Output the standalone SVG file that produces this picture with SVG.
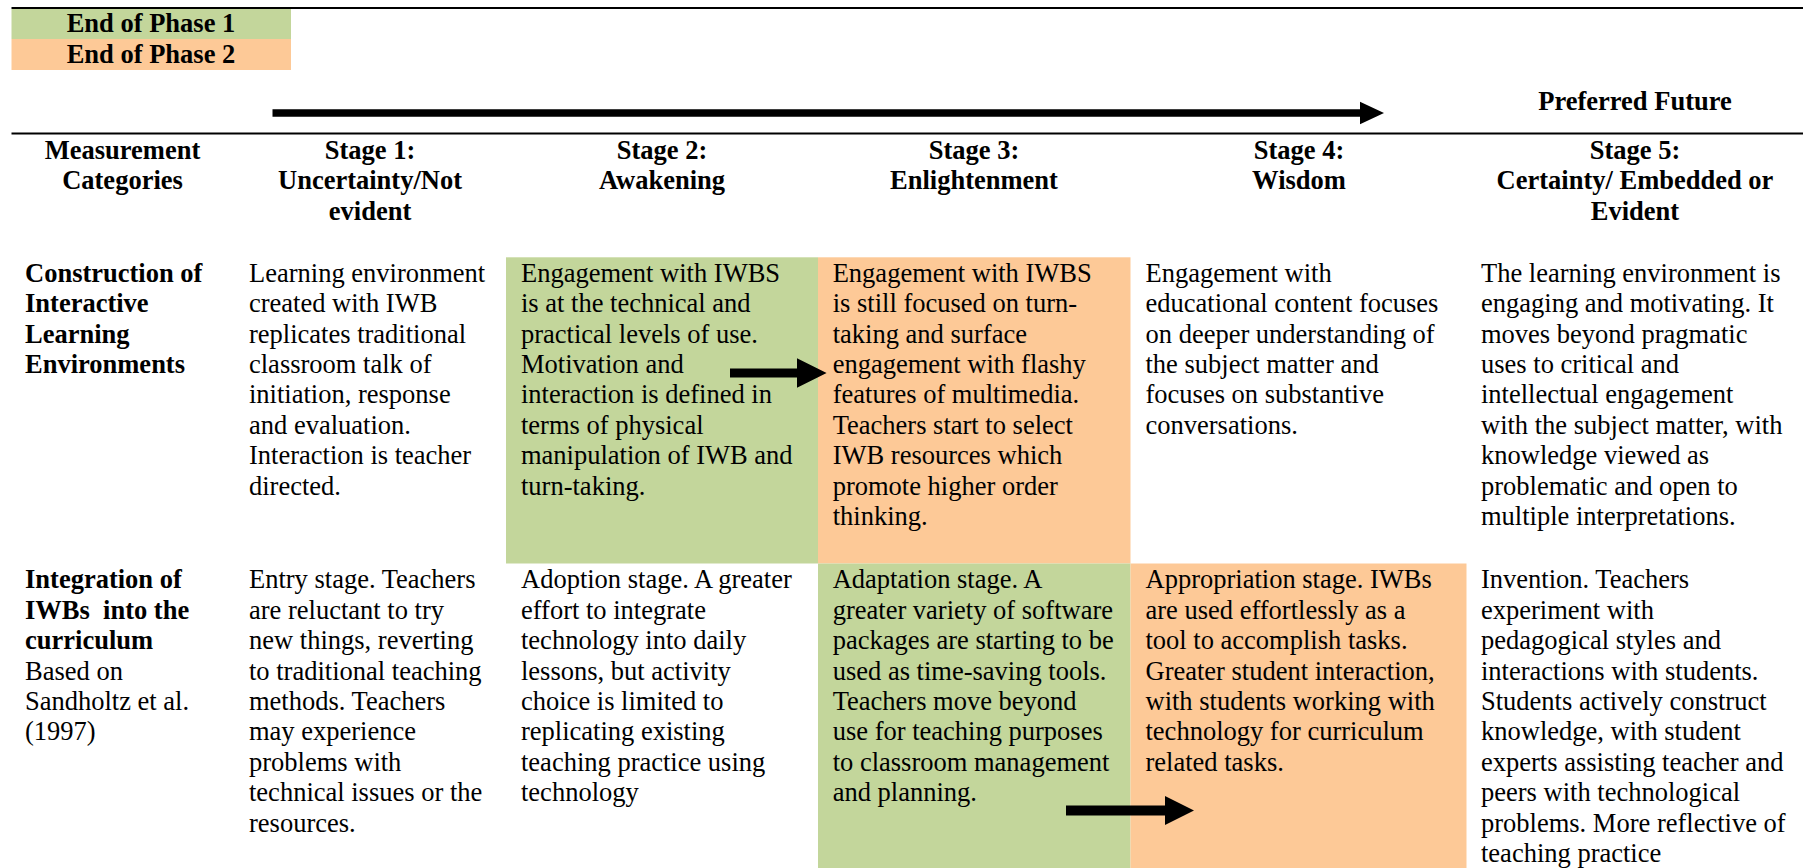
<svg xmlns="http://www.w3.org/2000/svg" width="1803" height="868" viewBox="0 0 1803 868">
<style>
text { font-family: "Liberation Serif", "Times New Roman", serif; font-size: 26.5px; fill: #000; }
.b { font-weight: bold; }
.c { text-anchor: middle; }
.green { fill: #C3D69B; }
.orange { fill: #FDC997; }
.rule { stroke: #000; stroke-width: 2; fill: none; }
.arrow { fill: #000; }
</style>
<rect width="1803" height="868" fill="#fff"/>

<g id="legend">
  <rect class="green" x="11.5" y="9" width="279.5" height="30"/>
  <rect class="orange" x="11.5" y="39" width="279.5" height="31"/>
  <text class="b c" x="151" y="32.3">End of Phase 1</text>
  <text class="b c" x="151" y="63.3">End of Phase 2</text>
</g>

<g id="rules">
  <line class="rule" x1="11.5" y1="8" x2="1803" y2="8"/>
  <line class="rule" x1="11.5" y1="133.5" x2="1803" y2="133.5"/>
</g>

<g id="preferred-future">
  <text class="b c" x="1635" y="110">Preferred Future</text>
</g>

<g id="cell-backgrounds">
  <rect class="green" x="506" y="257.3" width="312" height="306.2"/>
  <rect class="orange" x="818" y="257.3" width="312.5" height="306.2"/>
  <rect class="green" x="818" y="563.5" width="312.5" height="304.5"/>
  <rect class="orange" x="1130.5" y="563.5" width="336" height="304.5"/>
</g>

<g id="header-categories">
  <text class="b c" x="122.5" y="159"><tspan x="122.5">Measurement</tspan><tspan x="122.5" dy="30.4">Categories</tspan></text>
</g>
<g id="header-stage1">
  <text class="b c" x="370" y="159"><tspan x="370">Stage 1:</tspan><tspan x="370" dy="30.4">Uncertainty/Not</tspan><tspan x="370" dy="30.4">evident</tspan></text>
</g>
<g id="header-stage2">
  <text class="b c" x="662" y="159"><tspan x="662">Stage 2:</tspan><tspan x="662" dy="30.4">Awakening</tspan></text>
</g>
<g id="header-stage3">
  <text class="b c" x="974" y="159"><tspan x="974">Stage 3:</tspan><tspan x="974" dy="30.4">Enlightenment</tspan></text>
</g>
<g id="header-stage4">
  <text class="b c" x="1299" y="159"><tspan x="1299">Stage 4:</tspan><tspan x="1299" dy="30.4">Wisdom</tspan></text>
</g>
<g id="header-stage5">
  <text class="b c" x="1635" y="159"><tspan x="1635">Stage 5:</tspan><tspan x="1635" dy="30.4">Certainty/ Embedded or</tspan><tspan x="1635" dy="30.4">Evident</tspan></text>
</g>

<g id="row1-category">
  <text class="b" x="25" y="281.7"><tspan x="25">Construction of</tspan><tspan x="25" dy="30.4">Interactive</tspan><tspan x="25" dy="30.4">Learning</tspan><tspan x="25" dy="30.4">Environments</tspan></text>
</g>
<g id="row1-stage1">
  <text x="249" y="281.7"><tspan x="249">Learning environment</tspan><tspan x="249" dy="30.4">created with IWB</tspan><tspan x="249" dy="30.4">replicates traditional</tspan><tspan x="249" dy="30.4">classroom talk of</tspan><tspan x="249" dy="30.4">initiation, response</tspan><tspan x="249" dy="30.4">and evaluation.</tspan><tspan x="249" dy="30.4">Interaction is teacher</tspan><tspan x="249" dy="30.4">directed.</tspan></text>
</g>
<g id="row1-stage2">
  <text x="521" y="281.7"><tspan x="521">Engagement with IWBS</tspan><tspan x="521" dy="30.4">is at the technical and</tspan><tspan x="521" dy="30.4">practical levels of use.</tspan><tspan x="521" dy="30.4">Motivation and</tspan><tspan x="521" dy="30.4">interaction is defined in</tspan><tspan x="521" dy="30.4">terms of physical</tspan><tspan x="521" dy="30.4">manipulation of IWB and</tspan><tspan x="521" dy="30.4">turn-taking.</tspan></text>
</g>
<g id="row1-stage3">
  <text x="832.7" y="281.7"><tspan x="832.7">Engagement with IWBS</tspan><tspan x="832.7" dy="30.4">is still focused on turn-</tspan><tspan x="832.7" dy="30.4">taking and surface</tspan><tspan x="832.7" dy="30.4">engagement with flashy</tspan><tspan x="832.7" dy="30.4">features of multimedia.</tspan><tspan x="832.7" dy="30.4">Teachers start to select</tspan><tspan x="832.7" dy="30.4">IWB resources which</tspan><tspan x="832.7" dy="30.4">promote higher order</tspan><tspan x="832.7" dy="30.4">thinking.</tspan></text>
</g>
<g id="row1-stage4">
  <text x="1145.5" y="281.7"><tspan x="1145.5">Engagement with</tspan><tspan x="1145.5" dy="30.4">educational content focuses</tspan><tspan x="1145.5" dy="30.4">on deeper understanding of</tspan><tspan x="1145.5" dy="30.4">the subject matter and</tspan><tspan x="1145.5" dy="30.4">focuses on substantive</tspan><tspan x="1145.5" dy="30.4">conversations.</tspan></text>
</g>
<g id="row1-stage5">
  <text x="1481" y="281.7"><tspan x="1481">The learning environment is</tspan><tspan x="1481" dy="30.4">engaging and motivating. It</tspan><tspan x="1481" dy="30.4">moves beyond pragmatic</tspan><tspan x="1481" dy="30.4">uses to critical and</tspan><tspan x="1481" dy="30.4">intellectual engagement</tspan><tspan x="1481" dy="30.4">with the subject matter, with</tspan><tspan x="1481" dy="30.4">knowledge viewed as</tspan><tspan x="1481" dy="30.4">problematic and open to</tspan><tspan x="1481" dy="30.4">multiple interpretations.</tspan></text>
</g>

<g id="row2-category">
  <text x="25" y="588.3"><tspan class="b" x="25">Integration of</tspan><tspan class="b" x="25" dy="30.4" xml:space="preserve">IWBs  into the</tspan><tspan class="b" x="25" dy="30.4">curriculum</tspan><tspan x="25" dy="30.4">Based on</tspan><tspan x="25" dy="30.4">Sandholtz et al.</tspan><tspan x="25" dy="30.4">(1997)</tspan></text>
</g>
<g id="row2-stage1">
  <text x="249" y="588.3"><tspan x="249">Entry stage. Teachers</tspan><tspan x="249" dy="30.4">are reluctant to try</tspan><tspan x="249" dy="30.4">new things, reverting</tspan><tspan x="249" dy="30.4">to traditional teaching</tspan><tspan x="249" dy="30.4">methods. Teachers</tspan><tspan x="249" dy="30.4">may experience</tspan><tspan x="249" dy="30.4">problems with</tspan><tspan x="249" dy="30.4">technical issues or the</tspan><tspan x="249" dy="30.4">resources.</tspan></text>
</g>
<g id="row2-stage2">
  <text x="521" y="588.3"><tspan x="521">Adoption stage. A greater</tspan><tspan x="521" dy="30.4">effort to integrate</tspan><tspan x="521" dy="30.4">technology into daily</tspan><tspan x="521" dy="30.4">lessons, but activity</tspan><tspan x="521" dy="30.4">choice is limited to</tspan><tspan x="521" dy="30.4">replicating existing</tspan><tspan x="521" dy="30.4">teaching practice using</tspan><tspan x="521" dy="30.4">technology</tspan></text>
</g>
<g id="row2-stage3">
  <text x="832.7" y="588.3"><tspan x="832.7">Adaptation stage. A</tspan><tspan x="832.7" dy="30.4">greater variety of software</tspan><tspan x="832.7" dy="30.4">packages are starting to be</tspan><tspan x="832.7" dy="30.4">used as time-saving tools.</tspan><tspan x="832.7" dy="30.4">Teachers move beyond</tspan><tspan x="832.7" dy="30.4">use for teaching purposes</tspan><tspan x="832.7" dy="30.4">to classroom management</tspan><tspan x="832.7" dy="30.4">and planning.</tspan></text>
</g>
<g id="row2-stage4">
  <text x="1145.5" y="588.3"><tspan x="1145.5">Appropriation stage. IWBs</tspan><tspan x="1145.5" dy="30.4">are used effortlessly as a</tspan><tspan x="1145.5" dy="30.4">tool to accomplish tasks.</tspan><tspan x="1145.5" dy="30.4">Greater student interaction,</tspan><tspan x="1145.5" dy="30.4">with students working with</tspan><tspan x="1145.5" dy="30.4">technology for curriculum</tspan><tspan x="1145.5" dy="30.4">related tasks.</tspan></text>
</g>
<g id="row2-stage5">
  <text x="1481" y="588.3"><tspan x="1481">Invention. Teachers</tspan><tspan x="1481" dy="30.4">experiment with</tspan><tspan x="1481" dy="30.4">pedagogical styles and</tspan><tspan x="1481" dy="30.4">interactions with students.</tspan><tspan x="1481" dy="30.4">Students actively construct</tspan><tspan x="1481" dy="30.4">knowledge, with student</tspan><tspan x="1481" dy="30.4">experts assisting teacher and</tspan><tspan x="1481" dy="30.4">peers with technological</tspan><tspan x="1481" dy="30.4">problems. More reflective of</tspan><tspan x="1481" dy="30.4">teaching practice</tspan></text>
</g>

<g id="connectors">
  <path class="arrow" d="M272.5,109.3 H1360 V101.7 L1384,113 L1360,124.3 V116.7 H272.5 Z"/>
  <path class="arrow" d="M730,368.5 H797 V358.3 L826.6,373 L797,387.7 V377.5 H730 Z"/>
  <path class="arrow" d="M1066,805.5 H1165 V796 L1194,810.5 L1165,825 V815.5 H1066 Z"/>
</g>
</svg>
